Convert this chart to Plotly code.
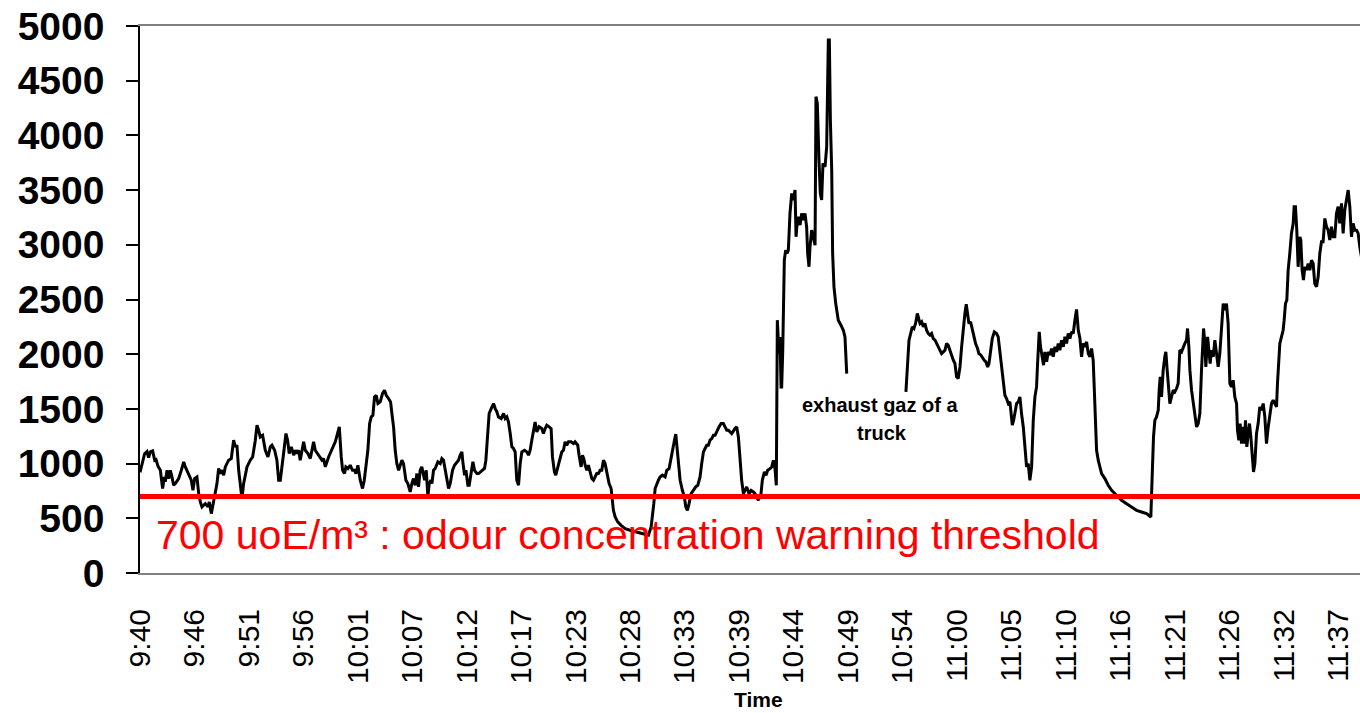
import plotly.graph_objects as go

FONT = "Liberation Sans, Arial, sans-serif"

# Time axis: minutes since the first sample, one label every 5.3 minutes
tick_labels = ["9:40", "9:46", "9:51", "9:56", "10:01", "10:07", "10:12", "10:17",
               "10:23", "10:28", "10:33", "10:39", "10:44", "10:49", "10:54", "11:00",
               "11:05", "11:10", "11:16", "11:21", "11:26", "11:32", "11:37"]
tick_step_min = 5.3

threshold = 700  # uoE/m3

# Odour concentration readings (minute, uoE/m3)
run_0940 = [
    (0.00, 920), (0.45, 1090), (0.68, 1110), (0.84, 1055), (1.01, 1107), (1.23, 1116),
    (1.43, 1031), (1.56, 1037), (1.75, 976), (1.98, 939), (2.20, 772), (2.37, 878),
    (2.46, 833), (2.63, 939), (2.79, 863), (2.95, 939), (3.11, 878), (3.27, 802),
    (3.44, 817), (3.76, 863), (4.02, 939), (4.25, 1016), (4.41, 970), (4.57, 939),
    (4.73, 909), (4.99, 848), (5.15, 756), (5.32, 863), (5.54, 878), (5.71, 726),
    (5.87, 650), (6.03, 604), (6.19, 619), (6.35, 634), (6.61, 604), (6.74, 650),
    (6.94, 543), (7.07, 604), (7.26, 726), (7.49, 817), (7.65, 955), (7.81, 909),
    (7.98, 939), (8.14, 894), (8.30, 970), (8.62, 1031), (8.88, 1046), (9.11, 1214),
    (9.27, 1153), (9.43, 1168), (9.60, 939), (9.76, 817), (9.92, 680), (10.08, 817),
    (10.25, 909), (10.41, 970), (10.73, 1031), (10.96, 1061), (11.22, 1214), (11.38, 1351),
    (11.54, 1305), (11.70, 1244), (11.93, 1259), (12.19, 1122), (12.45, 1061), (12.68, 1153),
    (12.84, 1168), (13.10, 1122), (13.32, 1031), (13.49, 848), (13.65, 848), (13.81, 1000),
    (13.97, 1092), (14.20, 1275), (14.36, 1214), (14.52, 1092), (14.72, 1153), (14.95, 1077),
    (15.11, 1122), (15.27, 1092), (15.43, 1122), (15.59, 1031), (15.76, 1122), (15.92, 1199),
    (16.08, 1122), (16.34, 1092), (16.57, 1046), (16.73, 1138), (16.89, 1199), (17.05, 1122),
    (17.38, 1077), (17.70, 1031), (17.86, 1046), (18.03, 970), (18.35, 1061), (18.67, 1138),
]

run_1000 = [
    (19.00, 1199), (19.26, 1290), (19.39, 1336), (19.58, 1061), (19.71, 939), (19.90, 909),
    (20.03, 970), (20.23, 955), (20.45, 985), (20.68, 939), (20.88, 939), (21.01, 909),
    (21.20, 985), (21.43, 848), (21.65, 772), (21.82, 848), (21.98, 1000), (22.17, 1122),
    (22.34, 1366), (22.50, 1427), (22.66, 1442), (22.82, 1610), (22.98, 1625), (23.15, 1549),
    (23.37, 1564), (23.60, 1641), (23.79, 1671), (23.96, 1625), (24.18, 1595), (24.38, 1564),
    (24.51, 1458), (24.67, 1336), (24.83, 1122), (24.99, 1000), (25.16, 939), (25.32, 985),
    (25.48, 1031), (25.64, 1000), (25.74, 909), (25.87, 848), (26.06, 817), (26.29, 741),
    (26.45, 817), (26.61, 863), (26.78, 802), (26.94, 909), (27.10, 787), (27.26, 939),
    (27.42, 970), (27.52, 909), (27.69, 848), (27.85, 939), (28.01, 695), (28.14, 817),
    (28.30, 848), (28.40, 817), (28.56, 939), (28.72, 955), (28.98, 1016), (29.21, 1000),
    (29.37, 1046), (29.53, 1031), (29.69, 939), (29.86, 848), (30.02, 772), (30.18, 817),
    (30.41, 939), (30.60, 985), (30.83, 1016), (30.99, 1031), (31.15, 1077), (31.32, 1107),
    (31.41, 1016), (31.58, 894), (31.71, 939), (31.90, 802), (32.03, 802), (32.22, 939),
    (32.39, 1016), (32.55, 939), (32.78, 909), (32.94, 909), (33.10, 924), (33.26, 939),
    (33.52, 955), (33.65, 1031), (33.78, 1244), (33.97, 1458), (34.17, 1503), (34.40, 1549),
    (34.56, 1503), (34.72, 1473), (34.88, 1427), (35.14, 1412), (35.37, 1458), (35.53, 1412),
    (35.69, 1427), (35.85, 1381), (36.02, 1275), (36.18, 1153), (36.34, 1138), (36.50, 1107),
    (36.66, 848), (36.83, 802), (36.99, 1000), (37.15, 1107), (37.41, 1122), (37.64, 1107),
    (37.80, 1077), (37.96, 1122), (38.12, 1214),
]

run_1020 = [
    (38.28, 1320), (38.44, 1381), (38.61, 1290), (38.83, 1336), (39.09, 1320), (39.25, 1275),
    (39.42, 1320), (39.58, 1351), (39.81, 1336), (40.00, 1320), (40.13, 1061), (40.32, 924),
    (40.45, 894), (40.65, 970), (40.88, 1046), (41.04, 1107), (41.20, 1122), (41.36, 1199),
    (41.52, 1168), (41.69, 1199), (41.95, 1199), (42.17, 1183), (42.33, 1199), (42.59, 1168),
    (42.72, 1077), (42.92, 970), (43.05, 1077), (43.18, 1046), (43.31, 985), (43.47, 939),
    (43.63, 985), (43.79, 924), (43.96, 863), (44.12, 848), (44.28, 878), (44.44, 909),
    (44.60, 909), (44.77, 939), (44.93, 939), (45.09, 1031), (45.25, 1000), (45.41, 909),
    (45.64, 817), (45.84, 772), (45.97, 665), (46.06, 573), (46.23, 512), (46.48, 467),
    (46.81, 436), (47.20, 406), (47.68, 391), (48.17, 375), (48.66, 366), (49.14, 354),
    (49.47, 345), (49.73, 421), (49.86, 512), (49.99, 634), (50.12, 772), (50.28, 817),
    (50.44, 848), (50.60, 878), (50.83, 894), (51.09, 878), (51.25, 939), (51.48, 955),
    (51.67, 1061), (51.83, 1138), (52.00, 1214), (52.13, 1269), (52.26, 1153), (52.38, 1031),
    (52.55, 848), (52.77, 756), (52.97, 695), (53.10, 604), (53.26, 573), (53.42, 634),
    (53.62, 726), (53.84, 756), (54.07, 787), (54.27, 802), (54.49, 878), (54.65, 1000),
    (54.82, 1107), (54.98, 1138), (55.14, 1168), (55.30, 1168), (55.46, 1214), (55.63, 1229),
    (55.79, 1259), (55.95, 1259), (56.15, 1305), (56.34, 1336), (56.54, 1366), (56.76, 1366),
    (56.92, 1336), (57.09, 1305), (57.25, 1305), (57.41, 1290), (57.57, 1275),
]

run_1040 = [
    (57.89, 1320), (58.06, 1335), (58.22, 1244), (58.38, 1000), (58.54, 847), (58.71, 725),
    (58.87, 756), (59.03, 786), (59.26, 725), (59.45, 756), (59.68, 741), (59.84, 725),
    (60.16, 665), (60.42, 725), (60.55, 847), (60.75, 924), (60.91, 893), (61.07, 939),
    (61.30, 954), (61.46, 969), (61.62, 1030), (61.78, 954), (61.91, 802), (62.01, 2311),
    (62.17, 2006), (62.27, 2158), (62.37, 1701), (62.43, 1701), (62.53, 2006), (62.60, 2555),
    (62.69, 2860), (62.82, 2951), (62.95, 2921), (63.08, 2951), (63.24, 3287), (63.41, 3470),
    (63.57, 3409), (63.73, 3500), (63.83, 3073), (63.96, 3226), (64.05, 3256), (64.22, 3180),
    (64.38, 3287), (64.54, 3226), (64.70, 3287), (64.86, 3165), (64.96, 2921), (65.09, 2799),
    (65.19, 2982), (65.35, 3134), (65.51, 3073), (65.68, 2997), (65.77, 4354), (65.90, 4293),
    (66.06, 3774), (66.19, 3470), (66.32, 3409), (66.45, 3744), (66.65, 3713), (66.81, 3896),
    (66.97, 4872), (67.07, 4872), (67.17, 4140), (67.30, 3683), (67.39, 2921), (67.52, 2616),
    (67.69, 2463), (67.81, 2372), (67.94, 2311), (68.20, 2265), (68.43, 2219), (68.59, 2158),
    (68.69, 2006), (68.76, 1823),
]

run_1054 = [
    (74.52, 1656), (74.69, 1976), (74.82, 2128), (74.98, 2189), (75.14, 2250), (75.30, 2235),
    (75.46, 2281), (75.63, 2372), (75.72, 2342), (75.89, 2281), (76.05, 2296), (76.21, 2250),
    (76.37, 2281), (76.53, 2220), (76.70, 2189), (76.86, 2174), (77.02, 2189), (77.18, 2143),
    (77.35, 2128), (77.51, 2098), (77.67, 2067), (77.83, 2037), (77.99, 2006), (78.16, 2021),
    (78.32, 2037), (78.48, 2098), (78.64, 2082), (78.80, 2037), (78.97, 1976), (79.13, 1945),
    (79.29, 1915), (79.45, 1793), (79.61, 1778), (79.78, 1884), (79.94, 2067), (80.10, 2250),
    (80.26, 2372), (80.39, 2457), (80.52, 2372), (80.65, 2281), (80.81, 2296), (80.98, 2220),
    (81.17, 2159), (81.30, 2098), (81.49, 2052), (81.62, 2006), (81.82, 1991), (81.98, 1961),
    (82.14, 1945), (82.30, 1930), (82.47, 1884), (82.60, 1915), (82.76, 2037), (82.92, 2143),
    (83.12, 2204), (83.34, 2189), (83.50, 2159), (83.67, 2006), (83.83, 1854), (83.99, 1732),
    (84.15, 1625), (84.31, 1595), (84.48, 1549), (84.64, 1564), (84.74, 1457), (84.87, 1351),
    (85.00, 1396), (85.13, 1488), (85.29, 1549), (85.45, 1564), (85.61, 1610), (85.77, 1457),
    (85.94, 1335), (86.10, 1153), (86.26, 970), (86.42, 1000), (86.58, 848), (86.75, 970),
    (86.91, 1396), (87.07, 1610), (87.23, 1701), (87.33, 1915), (87.40, 2067), (87.49, 2204),
    (87.62, 2067), (87.78, 1976), (87.91, 1900), (88.04, 2021), (88.21, 1930), (88.37, 2021),
    (88.53, 1991), (88.69, 2052), (88.85, 1976), (89.02, 2067), (89.18, 2021), (89.34, 2098),
    (89.50, 2037), (89.66, 2128), (89.83, 2067), (89.99, 2159), (90.15, 2098), (90.31, 2189),
    (90.47, 2143), (90.64, 2204), (90.80, 2189), (90.96, 2311), (91.12, 2409), (91.29, 2220),
    (91.45, 2143), (91.61, 1976), (91.77, 2098), (91.93, 2067), (92.10, 2113), (92.26, 2006),
    (92.42, 1976), (92.58, 2052), (92.74, 1945), (92.84, 1701), (92.97, 1305), (93.07, 1122),
    (93.23, 1031), (93.39, 970), (93.56, 909),
]

run_1114 = [
    (93.88, 863), (94.20, 802), (94.53, 756), (95.01, 710), (95.50, 665), (95.99, 634),
    (96.47, 604), (96.96, 573), (97.45, 558), (97.93, 543), (98.35, 512), (98.42, 787),
    (98.52, 1000), (98.61, 1244), (98.74, 1396), (98.90, 1427), (99.07, 1488), (99.16, 1671),
    (99.26, 1793), (99.39, 1610), (99.55, 1854), (99.71, 1976), (99.81, 2021), (99.94, 1854),
    (100.04, 1701), (100.20, 1549), (100.36, 1610), (100.53, 1671), (100.69, 1656), (100.85, 1686),
    (101.01, 1732), (101.17, 2037), (101.34, 2021), (101.50, 2067), (101.66, 2098), (101.82, 2128),
    (101.92, 2235), (102.05, 2067), (102.15, 1854), (102.31, 1671), (102.47, 1549), (102.63, 1427),
    (102.80, 1335), (102.96, 1366), (103.12, 1457), (103.28, 1854), (103.38, 2098), (103.48, 2235),
    (103.61, 2098), (103.70, 1884), (103.87, 2159), (103.99, 2067), (104.12, 1915), (104.25, 2037),
    (104.42, 1976), (104.58, 2128), (104.74, 2006), (104.90, 1884), (105.06, 2006), (105.23, 2250),
    (105.39, 2463), (105.55, 2402), (105.71, 2463), (105.87, 2281), (106.04, 1732), (106.20, 1701),
    (106.36, 1762), (106.52, 1610), (106.69, 1549), (106.78, 1305), (106.91, 1213), (107.04, 1366),
    (107.17, 1183), (107.30, 1335), (107.43, 1183), (107.56, 1396), (107.69, 1152), (107.82, 1274),
    (107.95, 1366), (108.08, 1244), (108.21, 1030), (108.34, 924), (108.47, 1000), (108.63, 1274),
    (108.79, 1366), (108.95, 1518), (109.12, 1488), (109.28, 1549), (109.44, 1427), (109.60, 1183),
    (109.77, 1335), (109.93, 1457), (110.09, 1549), (110.25, 1579), (110.41, 1549), (110.58, 1518),
    (110.67, 1732), (110.80, 2006), (110.90, 2098), (111.06, 2159), (111.22, 2219), (111.32, 2311),
    (111.45, 2463), (111.58, 2494), (111.71, 2768), (111.87, 2921), (112.03, 3104), (112.20, 3195),
    (112.29, 3348), (112.42, 3348), (112.55, 3134), (112.68, 2799), (112.85, 3073), (112.94, 3043),
    (113.07, 2768), (113.20, 2677), (113.33, 2799), (113.49, 2768), (113.66, 2829), (113.82, 2768),
    (113.98, 2860), (114.14, 2829), (114.30, 2646), (114.47, 2616), (114.63, 2707), (114.79, 2921),
    (114.95, 3028), (115.11, 3028), (115.28, 3241), (115.44, 3165), (115.60, 3134), (115.76, 3043),
    (115.92, 3165), (116.09, 3073), (116.25, 3073), (116.41, 3287), (116.57, 3348), (116.73, 3195),
    (116.90, 3378), (117.06, 3104), (117.22, 3317), (117.38, 3409), (117.55, 3500), (117.71, 3348),
    (117.87, 3073), (118.03, 3195), (118.19, 3134), (118.36, 3134), (118.52, 3104), (118.68, 2982),
    (118.84, 2890),
]

# The sensor was interrupted between the two logging periods (line break)
before_gap = run_0940 + run_1000 + run_1020 + run_1040
after_gap = run_1054 + run_1114
xs = [t for t, _ in before_gap] + [None] + [t for t, _ in after_gap]
ys = [v for _, v in before_gap] + [None] + [v for _, v in after_gap]

fig = go.Figure()
fig.add_trace(go.Scatter(
    x=xs, y=ys, mode="lines", connectgaps=False,
    line=dict(color="black", width=3),
    hoverinfo="skip",
))

# Warning threshold
fig.add_shape(type="line", xref="paper", x0=0, x1=1, yref="y", y0=threshold, y1=threshold,
              line=dict(color="#FF0000", width=5), layer="above")

fig.add_annotation(x=1.4, y=345, xref="x", yref="y", xanchor="left", yanchor="middle",
                   text="700 uoE/m³ : odour concentration warning threshold",
                   showarrow=False, font=dict(family=FONT, size=41, color="#FF0000"))

fig.add_annotation(x=72.0, y=1534, xref="x", yref="y", xanchor="center", yanchor="middle",
                   text="exhaust gaz of a", showarrow=False,
                   font=dict(family=FONT, size=20, color="black", weight="bold"))
fig.add_annotation(x=72.2, y=1284, xref="x", yref="y", xanchor="center", yanchor="middle",
                   text="truck", showarrow=False,
                   font=dict(family=FONT, size=20, color="black", weight="bold"))

fig.add_annotation(x=0.5066, y=-0.2305, xref="paper", yref="paper", xanchor="center",
                   yanchor="middle", text="Time", showarrow=False,
                   font=dict(family=FONT, size=21, color="black", weight="bold"))

fig.update_layout(
    width=1360, height=713,
    margin=dict(l=140, r=0, t=26, b=140),
    plot_bgcolor="white", paper_bgcolor="white",
    showlegend=False,
    xaxis=dict(
        range=[0, 118.7],
        tickmode="array",
        tickvals=[i * tick_step_min for i in range(len(tick_labels))],
        ticktext=tick_labels,
        tickangle=-90,
        tickfont=dict(family=FONT, size=30, color="black"),
        ticks="", ticklabelstandoff=22,
        showgrid=False, zeroline=False,
        showline=True, linecolor="#808080", linewidth=2, mirror=True,
    ),
    yaxis=dict(
        range=[0, 5000], dtick=500, tick0=0,
        tickfont=dict(family=FONT, size=39, color="black", weight="bold"),
        ticks="outside", ticklen=12, tickcolor="black", tickwidth=1.5,
        ticklabelstandoff=14,
        showgrid=False, zeroline=False,
        showline=True, linecolor="black", linewidth=1.5,
    ),
)

fig.write_html("out.html")
